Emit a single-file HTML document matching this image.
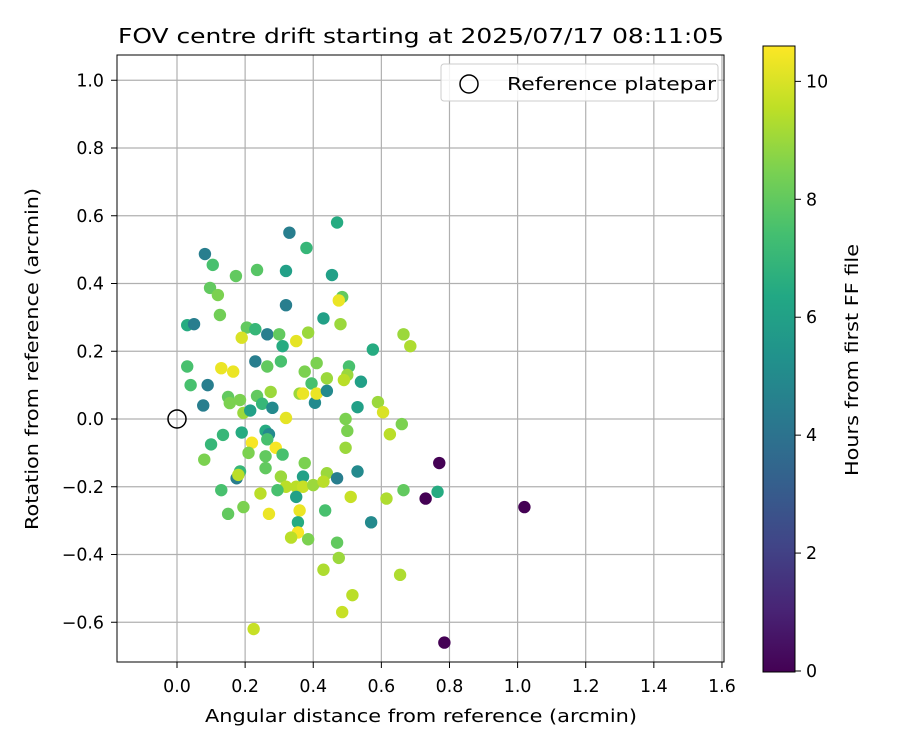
<!DOCTYPE html>
<html><head><meta charset="utf-8"><style>
body{margin:0;background:#fff;font-family:"DejaVu Sans","Liberation Sans",sans-serif}
svg text{font-family:"DejaVu Sans","Liberation Sans",sans-serif;fill:#000}
</style></head><body>
<svg id="chart" width="900" height="750" xmlns="http://www.w3.org/2000/svg">
<defs><linearGradient id="vir" x1="0" y1="1" x2="0" y2="0">
<stop offset="0" stop-color="#440154"/><stop offset="0.1" stop-color="#482475"/><stop offset="0.2" stop-color="#414487"/><stop offset="0.3" stop-color="#355f8d"/><stop offset="0.4" stop-color="#2a788e"/><stop offset="0.5" stop-color="#21918c"/><stop offset="0.6" stop-color="#22a884"/><stop offset="0.7" stop-color="#44bf70"/><stop offset="0.8" stop-color="#7ad151"/><stop offset="0.9" stop-color="#bddf26"/><stop offset="1" stop-color="#fde725"/></linearGradient></defs>
<text x="118" y="43" font-size="20.8" textLength="606" lengthAdjust="spacingAndGlyphs">FOV centre drift starting at 2025/07/17 08:11:05</text>
<g id="grid"></g>
<g id="points"></g>
<rect x="117" y="55" width="607" height="607" fill="none" stroke="#000" stroke-width="1"/>
<g id="ticks"></g>
<text x="205" y="722" font-size="17.4" textLength="432" lengthAdjust="spacingAndGlyphs">Angular distance from reference (arcmin)</text>
<text transform="translate(38,530) rotate(-90)" font-size="17.4" textLength="342" lengthAdjust="spacingAndGlyphs">Rotation from reference (arcmin)</text>
<g>
<rect x="441" y="64" width="277" height="37" rx="3" fill="#fff" fill-opacity="0.85" stroke="#ccc"/>
<circle cx="469" cy="84" r="9" fill="none" stroke="#000" stroke-width="1.5"/>
<text x="507" y="90" font-size="17.4" textLength="209" lengthAdjust="spacingAndGlyphs">Reference platepar</text>
</g>
<rect x="763" y="46" width="32" height="626" fill="url(#vir)" stroke="#000" stroke-width="1"/>
<g id="cticks"></g>
<text transform="translate(858,476) rotate(-90)" font-size="17.4" textLength="232" lengthAdjust="spacingAndGlyphs">Hours from first FF file</text>
</svg>
<script>
const xTicks=[0.0,0.2,0.4,0.6,0.8,1.0,1.2,1.4,1.6];
const yTicks=[-0.6,-0.4,-0.2,0.0,0.2,0.4,0.6,0.8,1.0];
const cTicks=[0,2,4,6,8,10];
const xs=[0.082,0.105,0.097,0.12,0.126,0.173,0.235,0.33,0.38,0.32,0.47,0.455,0.32,0.43,0.485,0.475,0.03,0.05,0.205,0.23,0.265,0.30,0.31,0.35,0.385,0.48,0.665,0.685,0.19,
0.03,0.04,0.09,0.077,0.13,0.165,0.15,0.155,0.185,0.195,0.215,0.235,0.25,0.28,0.23,0.265,0.305,0.275,0.32,0.36,0.375,0.395,0.405,0.41,0.37,0.41,0.44,0.44,0.505,0.50,0.49,0.54,0.575,0.53,0.59,0.605,0.495,0.50,0.495,0.66,0.625,
0.135,0.19,0.26,0.27,0.10,0.22,0.21,0.265,0.29,0.31,0.26,0.08,0.26,0.185,0.175,0.18,0.375,0.37,0.305,0.44,0.47,0.53,0.32,0.35,0.37,0.40,0.43,0.13,0.245,0.295,0.35,0.51,0.615,0.665,0.15,0.195,0.27,0.36,0.435,0.355,0.57,0.355,0.335,0.385,0.47,0.475,0.43,0.515,0.485,0.225,0.655,
0.77,0.73,0.765,0.785,1.02];
const ys=[0.487,0.455,0.387,0.366,0.307,0.422,0.44,0.55,0.505,0.437,0.58,0.425,0.336,0.297,0.36,0.35,0.277,0.28,0.27,0.265,0.25,0.25,0.215,0.23,0.255,0.28,0.25,0.215,0.24,
0.155,0.1,0.1,0.04,0.15,0.14,0.065,0.047,0.056,0.018,0.025,0.068,0.045,0.033,0.17,0.155,0.17,0.08,0.003,0.075,0.14,0.105,0.048,0.165,0.075,0.075,0.083,0.12,0.155,0.13,0.115,0.11,0.205,0.035,0.05,0.02,0.0,-0.035,-0.085,-0.015,-0.045,
-0.047,-0.04,-0.035,-0.045,-0.075,-0.07,-0.1,-0.06,-0.085,-0.105,-0.11,-0.12,-0.145,-0.155,-0.175,-0.165,-0.13,-0.17,-0.17,-0.16,-0.175,-0.155,-0.2,-0.2,-0.2,-0.195,-0.185,-0.21,-0.22,-0.21,-0.23,-0.23,-0.235,-0.21,-0.28,-0.26,-0.28,-0.27,-0.27,-0.305,-0.305,-0.335,-0.35,-0.355,-0.365,-0.41,-0.445,-0.52,-0.57,-0.62,-0.46,
-0.13,-0.235,-0.215,-0.66,-0.26];
const hours=[4.5,7.5,8,8.5,8.3,8,7.8,4.5,7,6,6.5,6,4.5,6,8,10.3,6.5,4.5,8,7,4.5,8,6.5,10.2,9,9,9,9.3,10,
7.5,7.5,4.5,4.5,10.3,10.3,8,8.5,8.5,9,6,8,7,5,4.5,8,7.5,9,10.2,9,8.5,7.5,5,8.5,10.3,10.3,5,9,7.5,9,9.5,6,6.5,6,9,10,8.5,8.5,9,8.5,9.5,
7,6.5,6.5,5,7,10.5,8.5,7.5,10.5,7.5,8,8.5,8,7,4.5,9.5,8.5,6,9,9,4.5,5,9.5,9.5,9.7,9,9.5,7.5,9.5,7.5,6,9.7,9.3,8,8,8.5,10.3,10.3,7.5,6.5,5,10.5,9.5,8.5,8,9,9.3,9.5,9.7,9.7,9.3,
0,0,6.5,0,0];
const X=v=>177+v*340.6, Y=v=>419-v*338.75;
const HMAX=10.6, C=h=>671-h*(625/HMAX);
const stops=[[68,1,84],[72,36,117],[65,68,135],[53,95,141],[42,120,142],[33,145,140],[34,168,132],[68,191,112],[122,209,81],[189,223,38],[253,231,37]];
function vir(h){let t=Math.max(0,Math.min(1,h/HMAX))*10,i=Math.min(9,Math.floor(t)),f=t-i;
const a=stops[i],b=stops[i+1];return`rgb(${a.map((v,k)=>Math.round(v+(b[k]-v)*f)).join(',')})`;}
const NS="http://www.w3.org/2000/svg";
function mk(tag,attrs,parent){const e=document.createElementNS(NS,tag);for(const k in attrs)e.setAttribute(k,attrs[k]);parent.appendChild(e);return e;}
const grid=document.getElementById('grid'),tk=document.getElementById('ticks'),pts=document.getElementById('points'),ct=document.getElementById('cticks');
xTicks.forEach(v=>{const x=X(v);
const g=mk('line',{x1:x,x2:x,y1:55,y2:662,stroke:'#b0b0b0','stroke-width':1.2},grid);


mk('line',{x1:x,x2:x,y1:662,y2:668,stroke:'#000'},tk);
const t=mk('text',{x:x,y:692,'font-size':17.4,'text-anchor':'middle'},tk);t.textContent=v.toFixed(1);

});
yTicks.forEach(v=>{const y=Y(v);
const g=mk('line',{x1:117,x2:724,y1:y,y2:y,stroke:'#b0b0b0','stroke-width':1.2},grid);


mk('line',{x1:111,x2:117,y1:y,y2:y,stroke:'#000'},tk);
const t=mk('text',{x:104,y:y+6,'font-size':17.4,'text-anchor':'end'},tk);t.textContent=v.toFixed(1).replace('-','\u2212');

});
xs.forEach((v,i)=>{const c=mk('circle',{cx:X(v),cy:Y(ys[i]),r:6.2,fill:vir(hours[i])},pts);

});
const ref=mk('circle',{cx:X(0),cy:Y(0),r:9,fill:'none',stroke:'#000','stroke-width':1.5},pts);


cTicks.forEach(v=>{const y=C(v);
mk('line',{x1:795,x2:801,y1:y,y2:y,stroke:'#000'},ct);
const t=mk('text',{x:806,y:y+6,'font-size':17.4},ct);t.textContent=v;

});
</script>
</body></html>
